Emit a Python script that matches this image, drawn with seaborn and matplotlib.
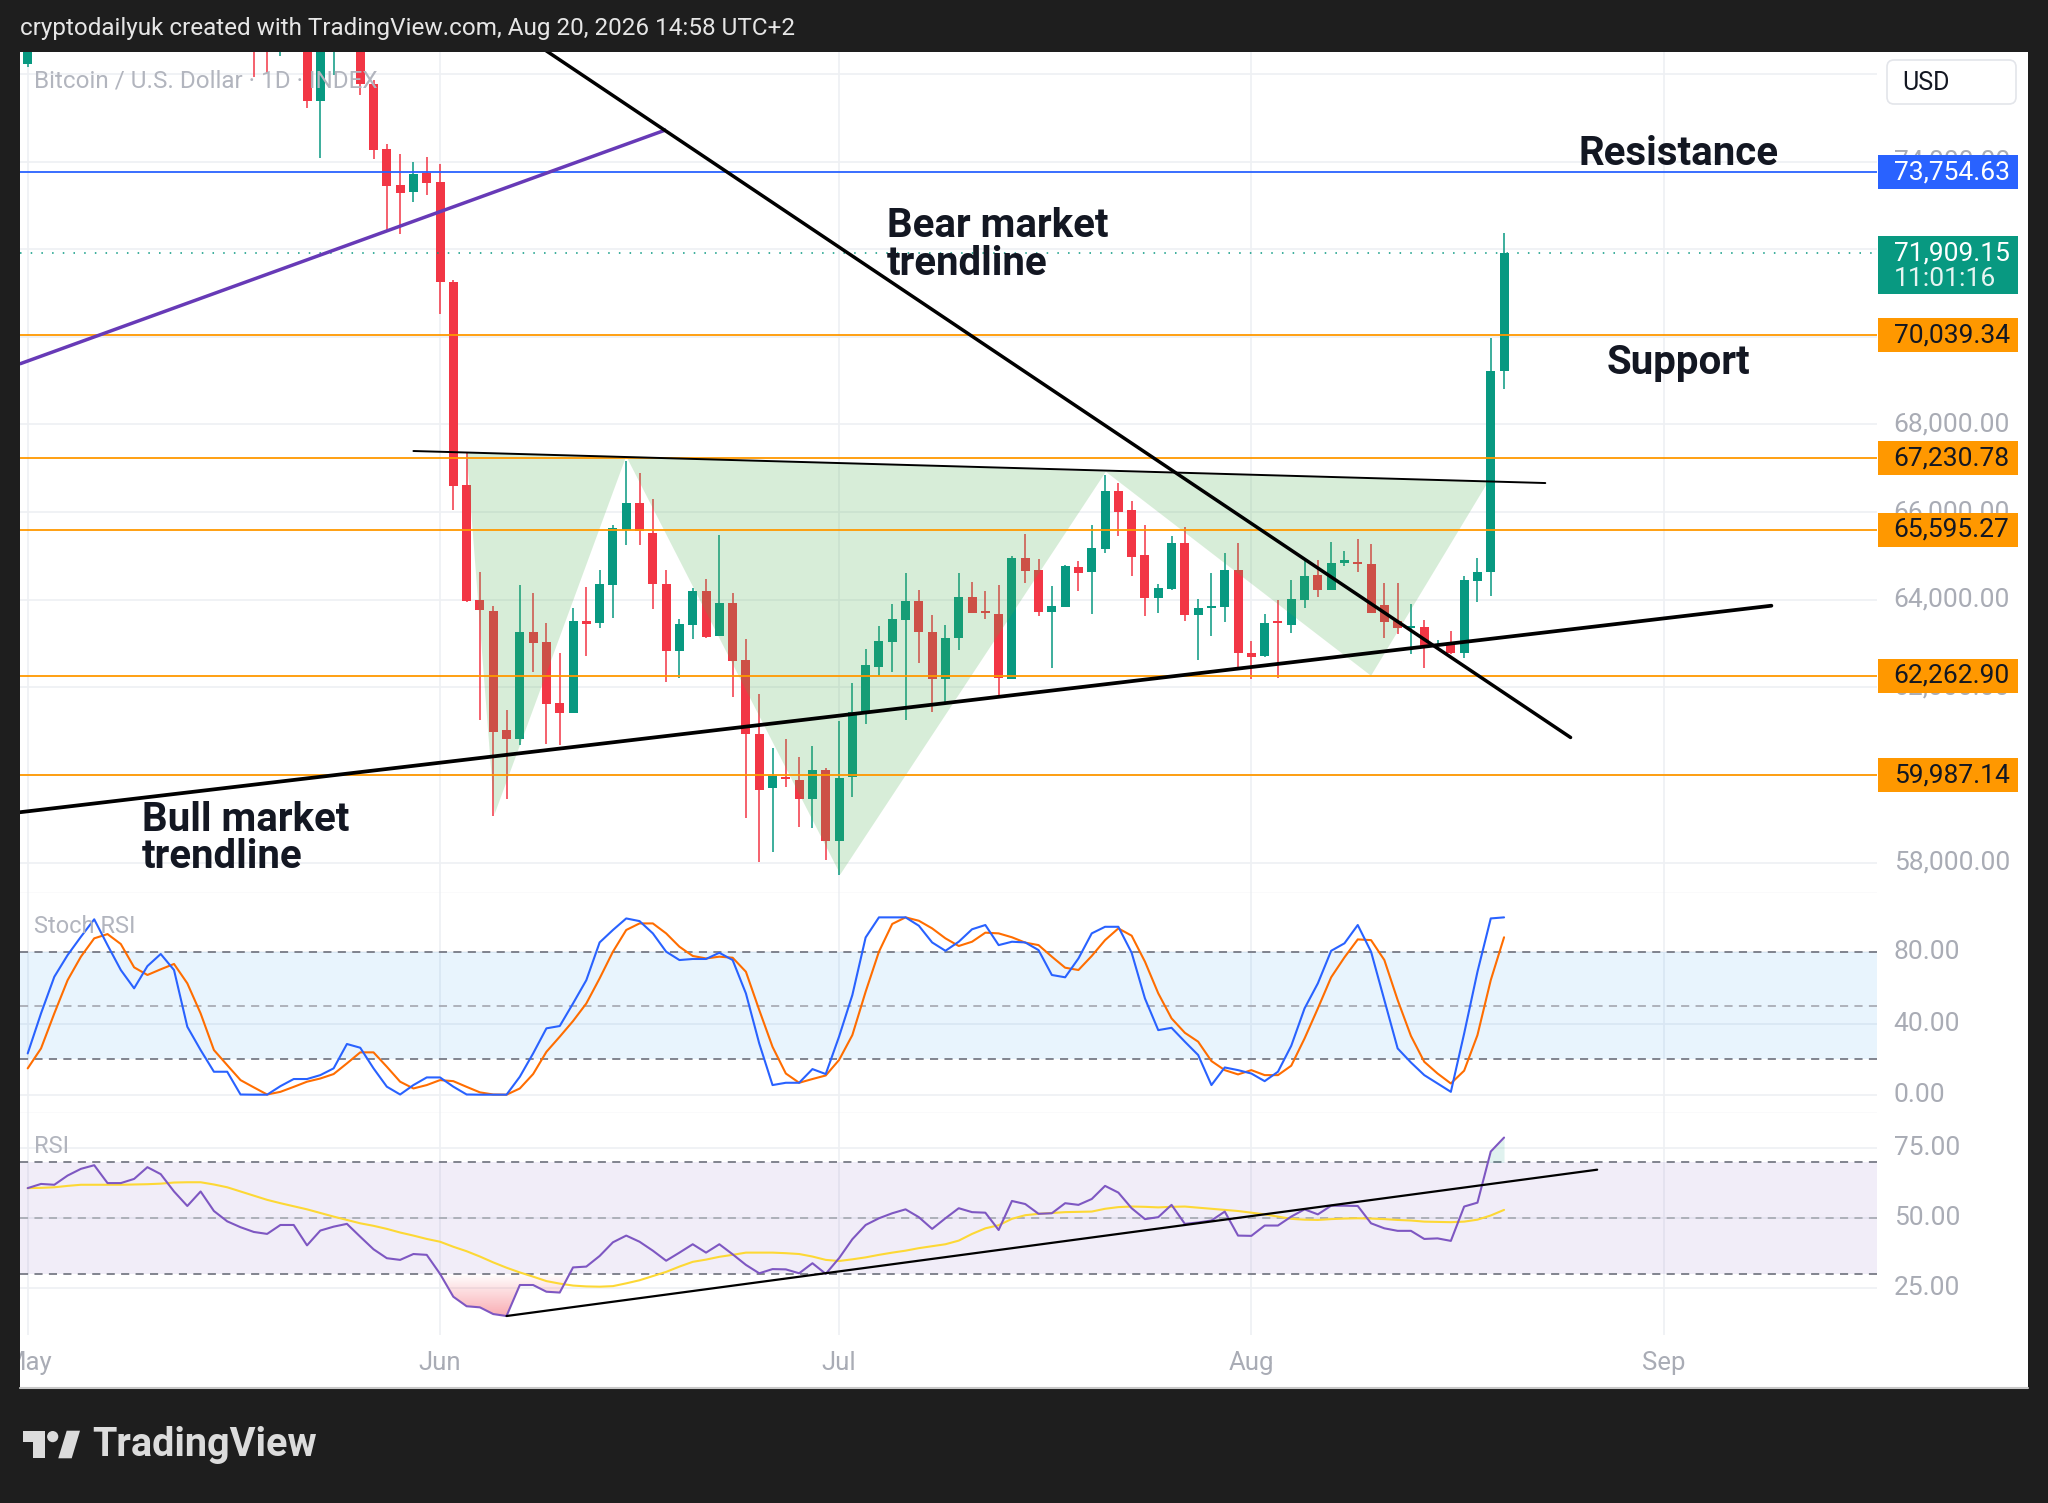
import numpy as np
import pandas as pd
import matplotlib
matplotlib.use("Agg")
import matplotlib.pyplot as plt
import matplotlib.dates as mdates
import matplotlib.transforms as mtransforms
from matplotlib.colors import LinearSegmentedColormap
from matplotlib.patches import Polygon, Rectangle, Circle, FancyBboxPatch
from matplotlib.path import Path
import seaborn as sns

# ---------------- data ----------------
start = "2026-05-01"

opens = [76224, 77000, 77600, 77550, 78200, 78800, 79200, 78300, 78300, 78600,
         79300, 78900, 78100, 77400, 78000, 77100, 76900, 76800, 76700, 76650,
         76900, 76950, 75380, 76750, 77000, 77100, 75774, 74280, 73460, 73308,
         73740, 73535, 71257, 66626, 63984, 63740, 61022, 60809, 63269, 63041,
         61644, 61417, 63505, 63467, 64333, 65600, 66208, 65524, 64364, 62829,
         63413, 64196, 63170, 63915, 62617, 60945, 59692, 59958, 59891, 59450,
         60118, 58486, 59959, 61440, 62472, 63041, 63535, 63966, 63269, 62183,
         63133, 64066, 63740, 63679, 62199, 64955, 64674, 63725, 63839, 64742,
         64636, 65160, 66473, 66041, 65016, 64028, 64249, 65297, 63649, 63801,
         63839, 64674, 62791, 62715, 63489, 63413, 63990, 64560, 64211, 64841,
         64864, 64803, 63877, 63512, 63360, 63375, 62943, 62981, 62776, 64423,
         64636, 69230]
highs = [77300, 77900, 78000, 78500, 79100, 79500, 79300, 78700, 78900, 79600,
         79500, 79000, 78200, 78300, 78100, 77300, 77100, 77000, 76900, 77100,
         77200, 77000, 77000, 77300, 77400, 77200, 75850, 74408, 74166, 73984,
         74105, 73938, 71300, 67346, 64629, 63854, 61478, 64333, 64157, 63460,
         62775, 63801, 64294, 64674, 65700, 67157, 66891, 66298, 64674, 63550,
         64271, 64462, 65486, 64157, 63095, 61844, 60612, 60818, 60414, 60649,
         60148, 61234, 62093, 62867, 63398, 63892, 64598, 64211, 63649, 63421,
         64598, 64408, 64196, 64332, 65008, 65502, 64917, 64310, 64780, 64879,
         65714, 66853, 66663, 66246, 65714, 64347, 65464, 65653, 64006, 64598,
         65054, 65297, 63057, 63679, 63983, 64439, 64879, 64894, 65312, 65107,
         65395, 65274, 64385, 64370, 63907, 63527, 63072, 63284, 64537, 64955,
         69967, 72359]
lows = [76150, 76800, 77200, 77400, 78000, 78600, 78000, 77900, 78100, 78400,
        78700, 77800, 77100, 77200, 76900, 76700, 76650, 75930, 76020, 76410,
        76600, 75220, 74090, 75970, 76650, 75520, 74066, 72396, 72335, 73080,
        73246, 70521, 66041, 63950, 61250, 59055, 59449, 60688, 62351, 60704,
        60681, 61417, 62707, 63360, 63573, 65244, 65244, 63793, 62130, 62221,
        63095, 63117, 63170, 61781, 59018, 58022, 58235, 59731, 58804, 58781,
        58061, 57727, 59487, 61158, 62260, 62358, 61249, 62563, 61439, 61652,
        62844, 63702, 63550, 61766, 62199, 64385, 63626, 62434, 63839, 64196,
        63664, 65069, 65448, 64537, 63626, 63702, 64211, 63512, 62624, 63170,
        63489, 62411, 62183, 62700, 62221, 63231, 63801, 64059, 64211, 64765,
        64636, 63702, 63133, 63208, 62768, 62434, 62943, 62753, 62662, 63945,
        64082, 68813]
closes = [77000, 77600, 77550, 78200, 78800, 79200, 78300, 78300, 78600, 79300,
          78900, 78100, 77400, 78000, 77100, 76900, 76800, 76700, 76650, 76900,
          76950, 75380, 76750, 77000, 77100, 75774, 74272, 73451, 73292, 73725,
          73512, 71242, 66588, 63968, 63756, 60984, 60809, 63269, 63018, 61628,
          61417, 63512, 63436, 64348, 65638, 66208, 65563, 64364, 62829, 63436,
          64196, 63155, 63915, 62601, 60945, 59663, 59966, 59906, 59450, 60118,
          58501, 59921, 61440, 62510, 63057, 63550, 63966, 63262, 62183, 63133,
          64066, 63702, 63694, 62221, 64940, 64651, 63717, 63854, 64765, 64613,
          65183, 66473, 66003, 64978, 64036, 64256, 65297, 63649, 63801, 63854,
          64674, 62776, 62700, 63467, 63459, 64006, 64537, 64211, 64841, 64894,
          64803, 63702, 63497, 63360, 63398, 62920, 62996, 62791, 64439, 64628,
          69230, 71909.15]

stoch_k = [23.2, 45.7, 66.3, 78.5, 88.8, 98.6, 84.1, 70.1, 59.8, 72.3,
           79.1, 70.1, 38.2, 25.1, 12.9, 12.9, 0.1, 0.0, 0.0, 4.8,
           8.8, 8.8, 11.0, 14.8, 28.5, 26.4, 14.8, 4.5, 0.1, 5.4,
           9.7, 9.7, 4.5, 0.1, 0.0, 0.0, 0.0, 10.1, 23.2, 37.3,
           38.6, 51.3, 64.4, 85.6, 92.6, 99.1, 97.6, 90.7, 80.4, 75.7,
           76.3, 76.3, 79.8, 75.7, 56.9, 28.8, 5.4, 6.7, 6.7, 14.4,
           11.6, 32.6, 56.0, 88.4, 99.7, 99.7, 99.7, 95.0, 85.6, 80.9,
           86.0, 93.0, 95.4, 84.1, 86.0, 85.6, 81.3, 67.3, 66.0, 76.6,
           90.7, 94.4, 94.4, 79.8, 54.1, 36.3, 37.6, 29.8, 22.3, 5.4,
           15.3, 13.8, 11.9, 7.6, 12.9, 27.5, 48.5, 62.6, 80.9, 85.1,
           95.4, 80.4, 53.2, 26.0, 18.1, 11.0, 6.3, 1.6, 34.4, 69.1,
           99.1, 99.7]
stoch_d = [14.8, 26.0, 45.7, 64.4, 77.6, 87.9, 90.3, 84.7, 71.6, 67.3,
           70.5, 73.5, 62.6, 45.7, 25.1, 16.6, 8.2, 4.1, 0.1, 1.6,
           4.4, 7.3, 9.1, 11.6, 17.6, 23.8, 23.8, 15.7, 7.3, 3.5,
           5.4, 8.2, 7.6, 4.4, 1.3, 0.1, 0.0, 3.5, 11.6, 24.1,
           32.6, 41.4, 51.3, 65.4, 80.4, 92.6, 96.3, 96.3, 90.7, 83.2,
           78.0, 76.6, 77.6, 77.0, 69.1, 47.6, 26.9, 11.9, 6.7, 8.8,
           10.8, 19.5, 33.5, 57.9, 80.4, 96.0, 99.7, 97.8, 93.5, 87.9,
           83.6, 86.0, 91.1, 90.7, 88.5, 85.5, 84.1, 77.6, 71.4, 70.1,
           78.0, 86.9, 93.5, 89.4, 74.8, 57.0, 42.9, 34.8, 29.8, 18.9,
           13.8, 11.4, 13.8, 11.0, 11.0, 16.3, 31.6, 48.5, 66.0, 77.2,
           87.3, 86.9, 75.7, 53.2, 33.0, 18.5, 11.9, 6.3, 13.5, 33.5,
           64.4, 88.5]
rsi = [60.8, 62.3, 62.0, 65.3, 67.7, 69.0, 62.6, 62.6, 64.1, 68.3,
       65.8, 59.6, 54.4, 59.6, 52.6, 48.9, 46.8, 45.1, 44.4, 47.6,
       47.6, 40.3, 45.6, 47.0, 48.0, 43.4, 38.9, 35.7, 35.1, 37.2,
       36.9, 30.1, 21.9, 18.5, 18.1, 15.7, 15.0, 26.1, 26.1, 23.7,
       23.4, 32.4, 32.7, 36.5, 41.4, 43.8, 41.6, 38.4, 34.8, 37.7,
       40.7, 37.7, 40.7, 37.1, 33.3, 30.3, 31.8, 31.7, 30.3, 33.9,
       30.1, 35.7, 42.5, 47.6, 50.0, 51.8, 53.2, 50.4, 46.2, 50.0,
       53.6, 52.2, 52.0, 45.8, 56.2, 55.1, 51.6, 51.8, 55.4, 54.8,
       56.9, 61.6, 59.2, 53.6, 49.7, 50.4, 54.8, 48.0, 48.5, 49.2,
       52.4, 43.8, 43.7, 47.4, 47.4, 50.6, 53.2, 51.4, 54.5, 54.5,
       54.4, 48.2, 46.4, 45.5, 45.5, 42.6, 42.8, 41.9, 54.2, 55.6,
       73.9, 78.9]
rsi_ma = [60.8, 60.9, 61.1, 61.6, 62.0, 62.0, 62.0, 62.0, 62.1, 62.2,
          62.4, 62.8, 62.9, 62.9, 62.1, 61.1, 59.6, 58.1, 56.6, 55.4,
          54.3, 53.2, 51.9, 50.6, 49.4, 48.2, 47.3, 46.2, 44.9, 43.8,
          42.6, 41.6, 39.8, 38.2, 36.3, 34.2, 32.3, 30.6, 29.1, 27.5,
          26.6, 25.9, 25.6, 25.5, 25.7, 26.7, 27.8, 29.3, 30.8, 32.7,
          34.4, 35.2, 36.2, 36.9, 37.7, 37.7, 37.7, 37.5, 37.2, 36.3,
          35.1, 34.7, 35.3, 36.0, 36.9, 37.7, 38.4, 39.3, 40.0, 40.7,
          42.0, 44.4, 46.4, 47.5, 49.8, 51.1, 51.6, 51.9, 52.2, 52.3,
          52.4, 53.4, 54.0, 54.2, 54.1, 53.9, 54.1, 54.2, 53.8, 53.4,
          53.0, 52.6, 52.0, 51.4, 50.6, 49.8, 49.5, 49.4, 49.7, 49.9,
          50.0, 49.9, 49.7, 49.4, 49.2, 48.8, 48.7, 48.6, 48.8, 49.5,
          51.0, 53.0]

for arr in (highs, lows, closes, stoch_k, stoch_d, rsi, rsi_ma):
    assert len(arr) == len(opens)

resistance = 73754.63
supports = [70039.34, 67230.78, 65595.27, 62262.90, 59987.14]
last_price = 71909.15
countdown = "11:01:16"
price_ticks = list(range(58000, 76001, 2000))
stoch_ticks = [80, 40, 0]
rsi_ticks = [75, 50, 25]
month_starts = ["2026-05-01", "2026-06-01", "2026-07-01", "2026-08-01", "2026-09-01"]
month_labels = ["May", "Jun", "Jul", "Aug", "Sep"]

# drawings: day offsets from start, price / indicator values
bull_days, bull_prices = [-0.6, 131.1], [59148, 63862]
bear_days, bear_prices = [38.5, 116.0], [76626, 60855]
purple_days, purple_prices = [-0.6, 48.0], [69381, 74725]
neck_days, neck_prices = [29.0, 114.1], [67393, 66662]
hs_days = [33.0, 35.1, 45.0, 61.1, 81.06, 101.0, 109.8]
hs_prices = [67359, 59100, 67274, 57730, 66920, 62263, 66690]
rsi_trend_days, rsi_trend_vals = [36.0, 118.0], [15.0, 67.4]

# ---------------- style ----------------
sns.set_theme(style="white")
plt.rcParams["font.family"] = ["Roboto", "DejaVu Sans"]

GREEN = "#089981"
RED = "#f23645"
ORANGE = "#ff9800"
BLUE = "#2962ff"
GRID = "#eef0f3"
AXTXT = "#a9acb5"
DARK = "#1e1e1e"

W, H = 2048, 1503


def frame(x0, y0, x1, y1):
    return [x0 / W, 1 - y1 / H, (x1 - x0) / W, (y1 - y0) / H]


def clean(ax):
    ax.set_facecolor("none")
    ax.set_xticks([])
    ax.set_yticks([])
    for s in ax.spines.values():
        s.set_visible(False)


def day(offset):
    return mdates.date2num(pd.Timestamp(start)) + np.asarray(offset, dtype=float)


dates = pd.date_range(start, periods=len(opens), freq="D")
x = mdates.date2num(dates)
o, h, l, c = (np.array(a, dtype=float) for a in (opens, highs, lows, closes))
xlim = (day(-0.58), day(139.04))
month_x = mdates.date2num(pd.to_datetime(month_starts))

fig = plt.figure(figsize=(20.48, 15.03), dpi=100)
fig.patch.set_facecolor(DARK)

bg = fig.add_axes([0, 0, 1, 1], zorder=-10)
bg.set_xlim(0, W)
bg.set_ylim(H, 0)
bg.axis("off")
bg.add_patch(Rectangle((20, 52), 2008, 1336, facecolor="white", edgecolor="none"))
bg.plot([20, 2028], [1388, 1388], color="#c8c8c8", lw=1.5)
bg.text(20, 29, "cryptodailyuk created with TradingView.com, Aug 20, 2026 14:58 UTC+2",
        color="#e6e6e6", fontsize=17.5, va="center", ha="left")

ax = fig.add_axes(frame(20, 52, 1877, 893))
ax_st = fig.add_axes(frame(20, 893, 1877, 1113))
ax_rs = fig.add_axes(frame(20, 1113, 1877, 1335))
ax_dt = fig.add_axes(frame(20, 1335, 1877, 1388))
ps = fig.add_axes(frame(1877, 52, 2028, 893))
ps_st = fig.add_axes(frame(1877, 893, 2028, 1113))
ps_rs = fig.add_axes(frame(1877, 1113, 2028, 1335))
for a in (ax, ax_st, ax_rs, ax_dt, ps, ps_st, ps_rs):
    clean(a)

main_ylim = (57305, 76500)
st_ylim = (-10.3, 113.4)
rs_ylim = (8.2, 87.7)
for a in (ax, ax_st, ax_rs, ax_dt):
    a.set_xlim(*xlim)
ax.set_ylim(*main_ylim)
ps.set_ylim(*main_ylim)
ax_st.set_ylim(*st_ylim)
ps_st.set_ylim(*st_ylim)
ax_rs.set_ylim(*rs_ylim)
ps_rs.set_ylim(*rs_ylim)

# ---------------- grids ----------------
for a in (ax, ax_st, ax_rs):
    for mx in month_x:
        a.axvline(mx, color=GRID, lw=1.2, zorder=0)
for t in price_ticks:
    ax.axhline(t, color=GRID, lw=1.2, zorder=0)
for t in stoch_ticks:
    ax_st.axhline(t, color=GRID, lw=1.2, zorder=0)
for t in rsi_ticks:
    ax_rs.axhline(t, color=GRID, lw=1.2, zorder=0)
ax.axhline(main_ylim[0], color="#e6e8ec", lw=1.0)
ax_st.axhline(st_ylim[0], color="#e6e8ec", lw=1.0)

# ---------------- candles ----------------
up = c >= o
col = np.where(up, GREEN, RED)
ax.vlines(x, l, h, colors=col, lw=1.1, zorder=3)
body_low = np.minimum(o, c)
body_h = np.maximum(np.abs(c - o), 45)
ax.bar(x, body_h, bottom=body_low, width=0.68, color=col, linewidth=0, zorder=4)

# inverse head & shoulders pattern fill
hs = list(zip(day(hs_days), hs_prices))
for tri in (hs[0:3], hs[2:5], hs[4:7]):
    ax.add_patch(Polygon(tri, closed=True, facecolor="#4caf50", alpha=0.22,
                         edgecolor="none", zorder=5))

# horizontal levels
ax.axhline(resistance, color=BLUE, lw=1.3, zorder=6)
for s in supports:
    ax.axhline(s, color=ORANGE, lw=1.3, zorder=6)
ax.axhline(last_price, color=GREEN, lw=1.1, ls=(0, (1, 6)), zorder=6)

# trendlines
ax.plot(day(purple_days), purple_prices, color="#673ab7", lw=2.5, zorder=7,
        solid_capstyle="butt")
ax.plot(day(bear_days), bear_prices, color="black", lw=2.5, zorder=7)
ax.plot(day(bull_days), bull_prices, color="black", lw=2.7, zorder=7)
ax.plot(day(neck_days), neck_prices, color="black", lw=1.4, zorder=7)

# labels on chart
ax.text(0.0075, 0.9655, "Bitcoin / U.S. Dollar · 1D · INDEX", transform=ax.transAxes,
        color="#b2b5be", fontsize=17.5, va="center", ha="left", zorder=8)
ax.text(day(124.1), 74172, "Resistance", fontsize=29, fontweight="bold",
        color="#131722", ha="center", va="center", zorder=9)
ax.text(day(124.1), 69403, "Support", fontsize=29, fontweight="bold",
        color="#131722", ha="center", va="center", zorder=9)
ax.text(day(64.6), 72096, "Bear market\ntrendline", fontsize=29, fontweight="bold",
        color="#131722", ha="left", va="center", linespacing=0.98, zorder=9)
ax.text(day(8.6), 58552, "Bull market\ntrendline", fontsize=29, fontweight="bold",
        color="#131722", ha="left", va="center", linespacing=0.98, zorder=9)

# ---------------- price scale ----------------
ptr = mtransforms.blended_transform_factory(ps.transAxes, ps.transData)
per_px = (main_ylim[1] - main_ylim[0]) / 841
for t in price_ticks:
    ps.text(0.11, t, f"{t:,.2f}", transform=ptr, fontsize=19, color=AXTXT,
            va="center", ha="left", zorder=2)


def level_box(v, face, tc):
    hh = 17 * per_px
    ps.add_patch(Rectangle((0.007, v - hh), 0.927, 2 * hh, transform=ptr,
                           facecolor=face, edgecolor="none", zorder=3))
    ps.text(0.11, v, f"{v:,.2f}", transform=ptr, fontsize=19, color=tc,
            va="center", ha="left", zorder=4)


level_box(resistance, BLUE, "white")
for s in supports:
    level_box(s, ORANGE, "#131722")
ps.add_patch(Rectangle((0.007, last_price - 41 * per_px), 0.927, 58 * per_px,
                       transform=ptr, facecolor=GREEN, edgecolor="none", zorder=3))
ps.text(0.11, last_price, f"{last_price:,.2f}", transform=ptr, fontsize=19,
        color="white", va="center", ha="left", zorder=4)
ps.text(0.11, last_price - 26 * per_px, countdown, transform=ptr, fontsize=19,
        color="#e6f4f1", va="center", ha="left", zorder=4)

# ---------------- Stoch RSI ----------------
ax_st.axhspan(20, 80, color="#2196f3", alpha=0.1, lw=0, zorder=0.5)
for lv, cc in ((80, "#787b86"), (50, "#a9acb5"), (20, "#787b86")):
    ax_st.axhline(lv, color=cc, lw=1.3, ls=(0, (4.5, 3.5)), zorder=1)
sns.lineplot(x=x, y=stoch_k, ax=ax_st, color=BLUE, linewidth=1.5, zorder=3)
sns.lineplot(x=x, y=stoch_d, ax=ax_st, color="#ff6d00", linewidth=1.5, zorder=2)
ax_st.text(0.0075, 0.85, "Stoch RSI", transform=ax_st.transAxes, fontsize=17,
           color="#b2b5be", va="center", ha="left")
str_ = mtransforms.blended_transform_factory(ps_st.transAxes, ps_st.transData)
for t in stoch_ticks:
    ps_st.text(0.11, t, f"{t:.2f}", transform=str_, fontsize=19, color=AXTXT,
               va="center", ha="left")

# ---------------- RSI ----------------
ax_rs.axhspan(30, 70, color="#7e57c2", alpha=0.1, lw=0, zorder=0.5)
for lv, cc in ((70, "#787b86"), (50, "#a9acb5"), (30, "#787b86")):
    ax_rs.axhline(lv, color=cc, lw=1.3, ls=(0, (4.5, 3.5)), zorder=1)
r = np.array(rsi)
fb = ax_rs.fill_between(x, r, 30, where=r < 30, interpolate=True,
                        facecolor="none", edgecolor="none")
clip = Path.make_compound_path(*fb.get_paths())
cmap = LinearSegmentedColormap.from_list(
    "os", [(0.949, 0.212, 0.271, 0.0), (0.949, 0.212, 0.271, 0.42)])
img = ax_rs.imshow(np.linspace(1, 0, 200).reshape(-1, 1), cmap=cmap, aspect="auto",
                   origin="lower", extent=[x[0], x[-1], 14.5, 30], zorder=1.5,
                   interpolation="bilinear")
img.set_clip_path(clip, transform=ax_rs.transData)
ax_rs.fill_between(x, r, 70, where=r > 70, interpolate=True, color=GREEN,
                   alpha=0.12, lw=0, zorder=1.5)
sns.lineplot(x=x, y=rsi_ma, ax=ax_rs, color="#fdd835", linewidth=1.5, zorder=2)
sns.lineplot(x=x, y=rsi, ax=ax_rs, color="#7e57c2", linewidth=1.5, zorder=3)
ax_rs.plot(day(rsi_trend_days), rsi_trend_vals, color="black", lw=1.6, zorder=4)
ax_rs.set_xlim(*xlim)
ax_rs.set_ylim(*rs_ylim)
ax_rs.text(0.0075, 0.847, "RSI", transform=ax_rs.transAxes, fontsize=17,
           color="#b2b5be", va="center", ha="left")
rtr = mtransforms.blended_transform_factory(ps_rs.transAxes, ps_rs.transData)
for t in rsi_ticks:
    ps_rs.text(0.11, t, f"{t:.2f}", transform=rtr, fontsize=19, color=AXTXT,
               va="center", ha="left")

for a in (ax_st, ax_rs):
    a.set_xlabel("")
    a.set_ylabel("")

# ---------------- date axis ----------------
for mx, lab in zip(month_x, month_labels):
    ax_dt.text(mx, 0.47, lab, transform=ax_dt.get_xaxis_transform(), fontsize=18.5,
               color=AXTXT, ha="center", va="center", clip_on=True)

# ---------------- overlay: USD box, logo ----------------
top = fig.add_axes([0, 0, 1, 1], zorder=10)
top.set_xlim(0, W)
top.set_ylim(H, 0)
top.axis("off")
top.set_facecolor("none")
top.add_patch(FancyBboxPatch((1887, 60), 129, 44, boxstyle="round,pad=0,rounding_size=7",
                             facecolor="white", edgecolor="#e3e5ea", lw=1.2))
top.text(1902, 83, "USD", fontsize=18, color="#131722", va="center", ha="left")

LOGO = "#dcdcdc"
top.add_patch(Polygon([(22.7, 1430.7), (45, 1430.7), (45, 1458.3), (33.3, 1458.3),
                       (33.3, 1441.7), (22.7, 1441.7)], closed=True, facecolor=LOGO,
                      edgecolor="none"))
top.add_patch(Circle((52.7, 1436.6), 5.6, facecolor=LOGO, edgecolor="none"))
top.add_patch(Polygon([(66.7, 1430.7), (80, 1430.7), (71.7, 1458.3), (58.3, 1458.3)],
                      closed=True, facecolor=LOGO, edgecolor="none"))
top.text(92, 1445, "TradingView", fontsize=28.5, fontweight="bold", color=LOGO,
         va="center", ha="left")

fig.savefig("out.png", dpi=100, facecolor=fig.get_facecolor())
